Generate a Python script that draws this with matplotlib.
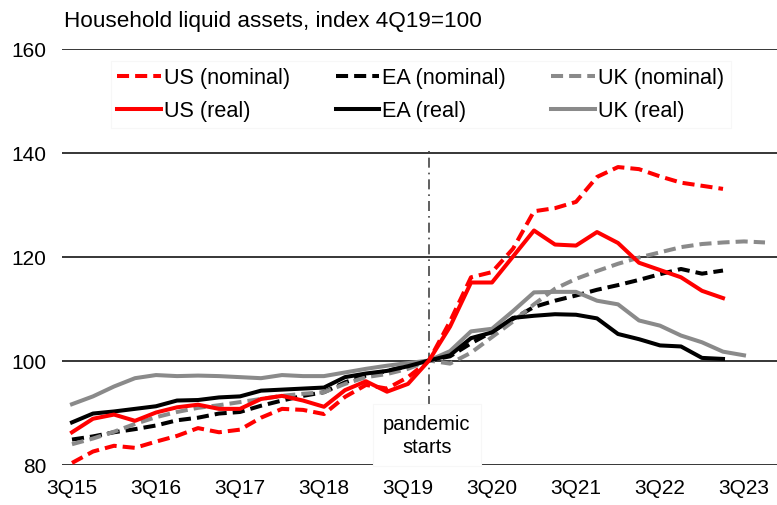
import matplotlib
matplotlib.use("Agg")
import matplotlib.pyplot as plt

plt.rcParams['font.family'] = ['Liberation Sans', 'DejaVu Sans']

quarters = ['3Q15', '4Q15', '1Q16', '2Q16', '3Q16', '4Q16', '1Q17', '2Q17',
            '3Q17', '4Q17', '1Q18', '2Q18', '3Q18', '4Q18', '1Q19', '2Q19',
            '3Q19', '4Q19', '1Q20', '2Q20', '3Q20', '4Q20', '1Q21', '2Q21',
            '3Q21', '4Q21', '1Q22', '2Q22', '3Q22', '4Q22', '1Q23', '2Q23',
            '3Q23', '4Q23']
tick_labels = ['3Q15', '3Q16', '3Q17', '3Q18', '3Q19', '3Q20', '3Q21', '3Q22', '3Q23']

us_nominal = [80.3, 82.5, 83.6, 83.2, 84.4, 85.5, 87.0, 86.2, 86.7, 89.0, 90.7, 90.5,
              89.7, 93.0, 95.3, 94.6, 96.8, 100.0, 107.5, 116.0, 117.0, 121.5, 128.7,
              129.3, 130.5, 135.3, 137.2, 136.8, 135.4, 134.2, 133.6, 133.0]
us_real = [86.2, 88.8, 89.6, 88.4, 90.0, 91.0, 91.5, 90.7, 90.7, 92.6, 93.2, 92.3,
           91.1, 94.3, 96.0, 94.0, 95.5, 100.0, 106.5, 115.0, 115.0, 120.0, 125.0,
           122.3, 122.1, 124.7, 122.6, 118.8, 117.4, 116.0, 113.4, 112.0]
ea_nominal = [84.8, 85.4, 86.2, 86.8, 87.5, 88.5, 89.0, 89.8, 90.1, 91.3, 92.3, 93.2,
              93.9, 95.8, 97.1, 98.0, 98.9, 100.0, 100.8, 103.3, 105.5, 108.0, 110.3,
              111.5, 112.5, 113.6, 114.5, 115.5, 116.6, 117.6, 116.7, 117.3]
ea_real = [88.1, 89.8, 90.2, 90.7, 91.2, 92.3, 92.4, 92.9, 93.1, 94.2, 94.4, 94.6,
           94.8, 96.8, 97.5, 98.0, 98.9, 100.0, 101.0, 104.3, 105.4, 108.2, 108.6,
           108.9, 108.8, 108.1, 105.1, 104.1, 102.9, 102.7, 100.5, 100.3]
uk_nominal = [83.9, 85.0, 86.3, 87.8, 89.1, 90.1, 90.9, 91.4, 92.0, 92.6, 93.2, 93.6,
              93.9, 95.5, 96.8, 97.4, 98.4, 100.0, 99.4, 101.5, 104.5, 107.5, 110.8,
              113.8, 115.7, 117.2, 118.6, 119.8, 120.8, 121.8, 122.4, 122.7, 122.9, 122.7]
uk_real = [91.6, 93.1, 95.0, 96.6, 97.2, 97.0, 97.1, 97.0, 96.8, 96.6, 97.2, 97.0,
           97.0, 97.7, 98.4, 99.0, 99.5, 100.0, 101.8, 105.6, 106.1, 109.5, 113.1,
           113.2, 113.2, 111.5, 110.8, 107.7, 106.7, 104.8, 103.5, 101.7, 101.0]

RED = '#ff0000'
BLACK = '#000000'
GRAY = '#8a8a8a'
LW = 2.9
DASH = (3.0, 1.5)

fig = plt.figure(figsize=(7.77, 5.06), dpi=100)
ax = fig.add_axes([62 / 777, 40.5 / 506, 715 / 777, 416 / 506])

x_idx = list(range(len(quarters)))

def plot_series(vals, color, dashed, label):
    xs = x_idx[:len(vals)]
    if dashed:
        ln, = ax.plot(xs, vals, color=color, lw=LW, dashes=DASH, label=label,
                      solid_capstyle='butt', dash_capstyle='butt', zorder=3)
    else:
        ln, = ax.plot(xs, vals, color=color, lw=LW, label=label,
                      solid_joinstyle='round', zorder=4)
    return ln

h_usn = plot_series(us_nominal, RED, True, 'US (nominal)')
h_ean = plot_series(ea_nominal, BLACK, True, 'EA (nominal)')
h_ukn = plot_series(uk_nominal, GRAY, True, 'UK (nominal)')
h_ukr = plot_series(uk_real, GRAY, False, 'UK (real)')
h_ear = plot_series(ea_real, BLACK, False, 'EA (real)')
h_usr = plot_series(us_real, RED, False, 'US (real)')

ax.set_xlim(-10 / 21, 705 / 21)
ax.set_ylim(80, 160)

for v in [80, 100, 120, 140, 160]:
    ax.axhline(v, color='#262626', lw=1.3, zorder=1)

for s in ax.spines.values():
    s.set_visible(False)

ax.set_yticks([80, 100, 120, 140, 160])
ax.set_yticklabels(['80', '100', '120', '140', '160'])
ax.tick_params(axis='y', length=0, pad=11, labelsize=15)
ax.set_xticks([quarters.index(t) for t in tick_labels])
ax.set_xticklabels(tick_labels)
ax.tick_params(axis='x', length=0, pad=10, labelsize=15)

# pandemic line
x_pan = quarters.index('4Q19')
ax.vlines(x_pan, 91.3, 141.3, colors='#444444', lw=1.2,
          linestyles=(0, (6, 3, 1, 3)), zorder=2)
ax.text(x_pan - 0.1, 85.7, 'pandemic\nstarts', ha='center', va='center',
        fontsize=14.5, linespacing=1.25, zorder=5,
        bbox=dict(boxstyle='square,pad=0.5', facecolor='white',
                  edgecolor='#f7f7f7', lw=0.8))

fig.text(64 / 777, 1 - 21 / 506, 'Household liquid assets, index 4Q19=100',
         ha='left', va='center', fontsize=16.2)

handles = [h_usn, h_usr, h_ean, h_ear, h_ukn, h_ukr]
labels = [h.get_label() for h in handles]
leg = fig.legend(handles, labels, ncol=3, loc='upper left',
                 bbox_to_anchor=(100 / 777, 1 - 51 / 506),
                 fontsize=15.6, handlelength=2.0, handletextpad=0.15,
                 columnspacing=2.1, labelspacing=0.55, borderpad=0.3,
                 frameon=True, fancybox=False)
leg.get_frame().set_facecolor('white')
leg.get_frame().set_edgecolor('#f5f5f5')
leg.get_frame().set_linewidth(0.8)
leg.set_zorder(6)

fig.savefig('out.png', dpi=100)
